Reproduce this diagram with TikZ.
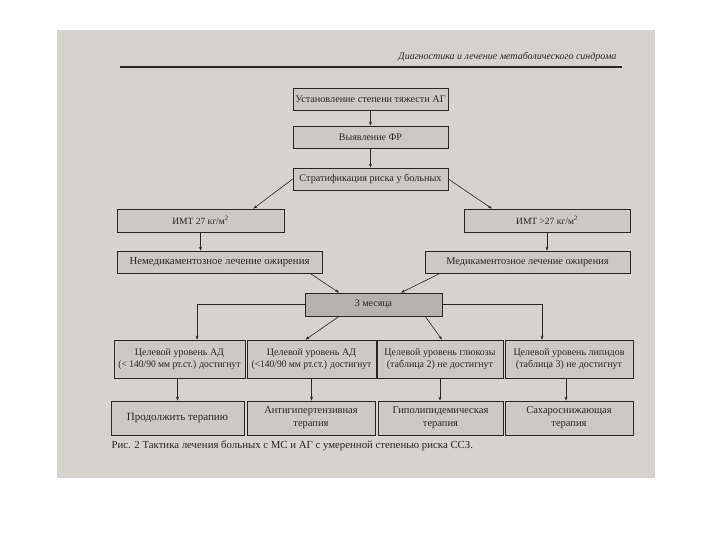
\documentclass[tikz,border=0pt]{standalone}
\usepackage{fontspec}
\setmainfont{Liberation Serif}
\usetikzlibrary{calc,arrows.meta}
\definecolor{pagegray}{RGB}{214,210,205}
\definecolor{boxgray}{RGB}{204,200,195}
\definecolor{darkbox}{RGB}{182,178,173}
\definecolor{inkc}{RGB}{40,38,37}
\newcommand{\cnd}[1]{\scalebox{0.95}[1]{#1}}
\tikzset{
  box/.style={draw=inkc, fill=boxgray, line width=0.7pt, inner sep=1pt, align=center, text=inkc, font=\fontsize{10}{12}\selectfont},
  arr/.style={draw=inkc, line width=0.6pt, -{Stealth[length=4pt,width=3pt]}},
}
\begin{document}
\begin{tikzpicture}[x=1pt,y=-1pt]
\useasboundingbox (0,0) rectangle (720,540);
\fill[white] (0,0) rectangle (720,540);
\fill[pagegray] (57,30) rectangle (655,478);
% header
\node[font=\itshape\fontsize{10}{12}\selectfont, text=inkc, anchor=east] (hdr) at (620,57) {Диагностика и лечение метаболического синдрома};
\draw[inkc, line width=1.3pt] (120,67) -- (622,67);
% nodes
\node[box, minimum width=155pt, minimum height=22pt, font=\fontsize{10.2}{12}\selectfont] (b1) at (370.5,99) {Установление степени тяжести АГ};
\node[box, minimum width=155pt, minimum height=22pt] (b2) at (370.5,137) {Выявление ФР};
\node[box, minimum width=155pt, minimum height=22pt, font=\fontsize{10.2}{12}\selectfont] (b3) at (370.5,179) {Стратификация риска у больных};
\node[box, minimum width=167pt, minimum height=23pt, font=\fontsize{9.5}{12}\selectfont] (b4) at (200.5,220.5) {ИМТ 27 кг/м\textsuperscript{2}};
\node[box, minimum width=166pt, minimum height=23pt, font=\fontsize{9.5}{12}\selectfont] (b5) at (547,220.5) {ИМТ >27 кг/м\textsuperscript{2}};
\node[box, minimum width=205pt, minimum height=22pt, font=\fontsize{10.8}{12}\selectfont] (b6) at (219.5,262) {Немедикаментозное лечение ожирения};
\node[box, minimum width=205pt, minimum height=22pt, font=\fontsize{10.3}{12}\selectfont] (b7) at (527.5,262) {Медикаментозное лечение ожирения};
\node[box, fill=darkbox, minimum width=137pt, minimum height=23pt] (b8) at (373.5,304.5) {3 месяца};
\node[box, minimum width=131pt, minimum height=38pt] (b9a) at (179.5,359) {Целевой уровень АД\\\cnd{(< 140/90 мм рт.ст.) достигнут}};
\node[box, minimum width=129pt, minimum height=38pt] (b9b) at (311.5,359) {Целевой уровень АД\\\cnd{(<140/90 мм рт.ст.) достигнут}};
\node[box, minimum width=126pt, minimum height=38pt] (b9c) at (440,359) {Целевой уровень глюкозы\\(таблица 2) не достигнут};
\node[box, minimum width=128pt, minimum height=38pt] (b9d) at (569,359) {Целевой уровень липидов\\(таблица 3) не достигнут};
\node[box, minimum width=133pt, minimum height=34pt, font=\fontsize{11}{13}\selectfont] (b10a) at (177.5,418) {Продолжить терапию};
\node[box, minimum width=128pt, minimum height=34pt, font=\fontsize{10.5}{13}\selectfont] (b10b) at (311,418) {Антигипертензивная\\терапия};
\node[box, minimum width=125pt, minimum height=34pt, font=\fontsize{10.5}{13}\selectfont] (b10c) at (440.5,418) {Гиполипидемическая\\терапия};
\node[box, minimum width=128pt, minimum height=34pt, font=\fontsize{10.5}{13}\selectfont] (b10d) at (569,418) {Сахароснижающая\\терапия};
% caption
\node[anchor=west, text=inkc, font=\fontsize{10.8}{12}\selectfont] (cap) at (108,446) {Рис. 2 Тактика лечения больных с МС и АГ с умеренной степенью риска ССЗ.};
% connectors
\draw[arr] (b1) -- (b2);
\draw[arr] (b2) -- (b3);
\draw[arr] (b3.west) -- ($(b4.north)!0.63!(b4.north east)$);
\draw[arr] (b3.east) -- ($(b5.north)!0.66!(b5.north west)$);
\draw[arr] (b4.south) -- (b4.south |- b6.north);
\draw[arr] (b5.south) -- (b5.south |- b7.north);
\draw[arr] ($(b6.south)!0.88!(b6.south east)$) -- ($(b8.north west)!0.5!(b8.north)$);
\draw[arr] ($(b7.south)!0.85!(b7.south west)$) -- ($(b8.north)!0.4!(b8.north east)$);
\draw[arr] (b8.west) -| ([xshift=17.5pt]b9a.north);
\draw[arr] (b8.east) -| ([xshift=-27pt]b9d.north);
\draw[arr] ($(b8.south)!0.5!(b8.south west)$) -- ([xshift=-6pt]b9b.north);
\draw[arr] ($(b8.south)!0.75!(b8.south east)$) -- ([xshift=2pt]b9c.north);
\draw[arr] ([xshift=-2pt]b9a.south) -- ([xshift=-2pt]b9a.south |- b10a.north);
\draw[arr] (b9b.south) -- (b9b.south |- b10b.north);
\draw[arr] (b9c.south) -- (b9c.south |- b10c.north);
\draw[arr] ([xshift=-3pt]b9d.south) -- ([xshift=-3pt]b9d.south |- b10d.north);
\end{tikzpicture}
\end{document}
